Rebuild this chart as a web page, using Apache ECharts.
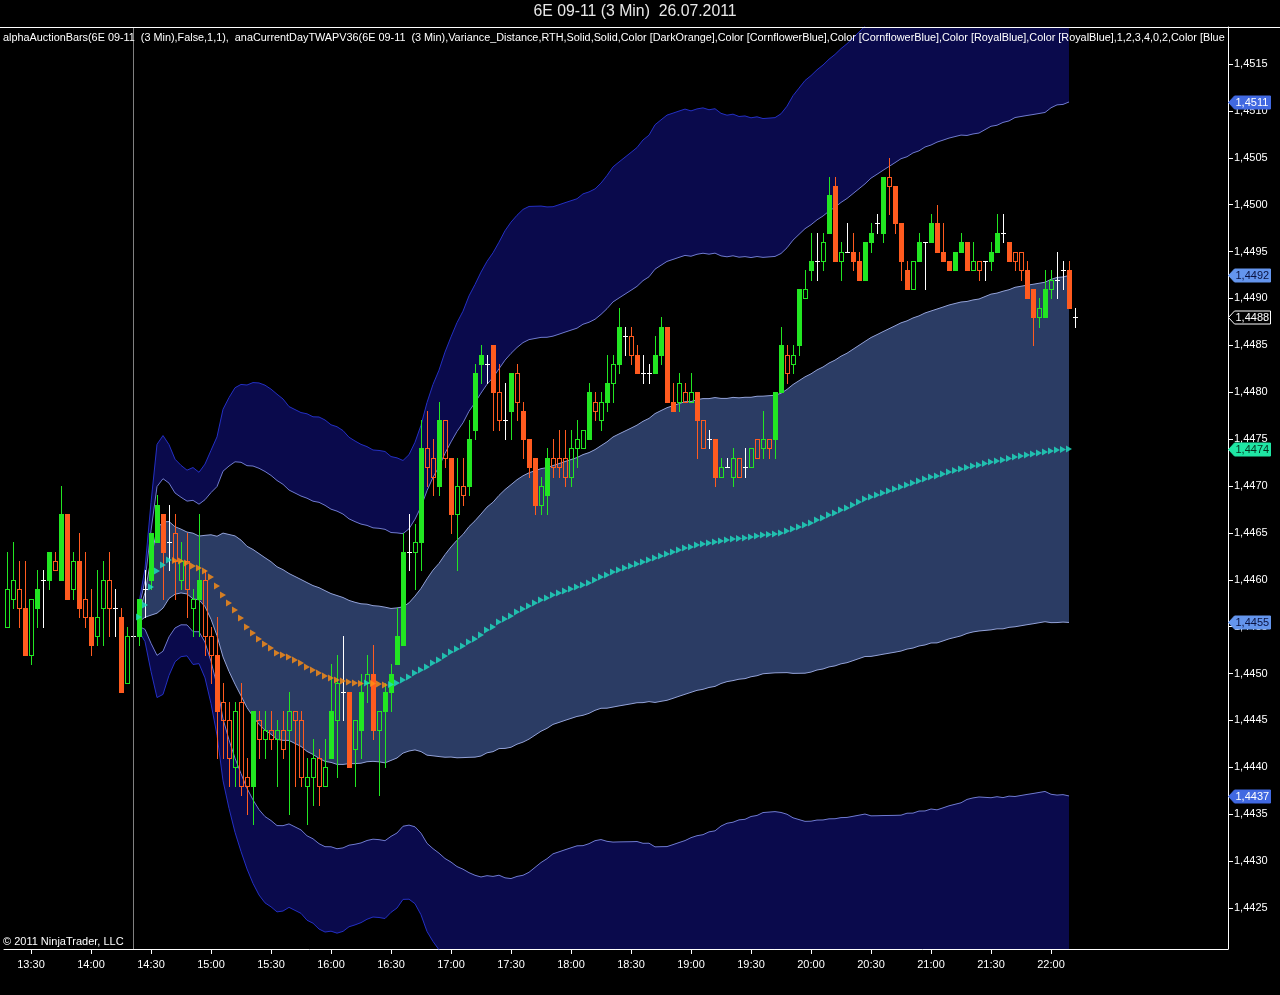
<!DOCTYPE html>
<html><head><meta charset="utf-8">
<script src="https://cdn.jsdelivr.net/npm/echarts@6/dist/echarts.min.js"></script>
<style>html,body{margin:0;padding:0;background:#000}#c{width:1280px;height:995px}</style>
</head><body><div id="c"></div><script>
// ---------- DATA ----------
const firstBarTime = '13:18';
const barMinutes = 3;
const timeTicks = ['13:30','14:00','14:30','15:00','15:30','16:00','16:30','17:00','17:30','18:00','18:30','19:00','19:30','20:00','20:30','21:00','21:30','22:00'];
const priceTicks = [1.4425,1.4430,1.4435,1.4440,1.4445,1.4450,1.4455,1.4460,1.4465,1.4470,1.4475,1.4480,1.4485,1.4490,1.4495,1.4500,1.4505,1.4510,1.4515];

const open = [1.4455,1.4458,1.4459,1.4457,1.4452,1.4457,1.4460,1.4460,1.4462,1.4460,
1.4467,1.4459,1.4462,1.4458,1.4456,1.4454,1.4457,1.4460,1.4457,1.4456,
1.4449,1.4454,1.4454,1.4459,1.4460,1.4464,1.4467,1.4464,1.4465,1.4460,
1.4462,1.4457,1.4458,1.4460,1.4454,1.4452,1.4447,1.4445,1.4440,1.4447,
1.4439,1.4438,1.4445,1.4443,1.4444,1.4443,1.4444,1.4444,1.4446,1.4445,
1.4438,1.4439,1.4441,1.4438,1.4441,1.4445,1.4448,1.4448,1.4442,1.4444,
1.4449,1.4450,1.4444,1.4446,1.4448,1.4451,1.4453,1.4463,1.4463,1.4464,
1.4474,1.4473,1.4470,1.4477,1.4473,1.4467,1.4470,1.4470,1.4476,1.4483,
1.4483,1.4485,1.4480,1.4477,1.4478,1.4482,1.4478,1.4475,1.4473,1.4468,
1.4469,1.4473,1.4473,1.4473,1.4471,1.4474,1.4474,1.4475,1.4479,1.4477,
1.4479,1.4481,1.4483,1.4486,1.4486,1.4484,1.4482,1.4482,1.4482,1.4484,
1.4487,1.4479,1.4479,1.4480,1.4479,1.4480,1.4477,1.4475,1.4475,1.4471,
1.4472,1.4471,1.4473,1.4472,1.4472,1.4475,1.4474,1.4475,1.4475,1.4480,
1.4484,1.4483,1.4485,1.4490,1.4493,1.4494,1.4494,1.4497,1.4502,1.4494,
1.4495,1.4495,1.4494,1.4492,1.4496,1.4498,1.4497,1.4503,1.4502,1.4498,
1.4493,1.4491,1.4494,1.4496,1.4496,1.4498,1.4495,1.4494,1.4493,1.4495,
1.4496,1.4493,1.4494,1.4494,1.4494,1.4495,1.4497,1.4496,1.4495,1.4495,
1.4493,1.4491,1.4488,1.4488,1.4491,1.4492,1.4493,1.4493,1.4488];
const high = [1.4463,1.4464,1.4462,1.4462,1.4458,1.4461,1.4461,1.4463,1.4463,1.4470,
1.4467,1.4463,1.4465,1.4463,1.4459,1.4461,1.4462,1.4463,1.4459,1.4457,
1.4455,1.4455,1.4458,1.4461,1.4465,1.4469,1.4467,1.4468,1.4467,1.4464,
1.4465,1.4459,1.4467,1.4461,1.4455,1.4456,1.4449,1.4447,1.4447,1.4449,
1.4441,1.4446,1.4446,1.4446,1.4446,1.4445,1.4446,1.4448,1.4446,1.4446,
1.4441,1.4443,1.4442,1.4443,1.4451,1.4452,1.4454,1.4448,1.4445,1.4450,
1.4452,1.4453,1.4446,1.4449,1.4451,1.4457,1.4465,1.4467,1.4466,1.4477,
1.4478,1.4475,1.4479,1.4477,1.4473,1.4473,1.4473,1.4477,1.4483,1.4485,
1.4484,1.4485,1.4483,1.4481,1.4482,1.4483,1.4479,1.4475,1.4473,1.4471,
1.4474,1.4475,1.4476,1.4476,1.4476,1.4477,1.4476,1.4481,1.4480,1.4480,
1.4484,1.4484,1.4489,1.4487,1.4487,1.4485,1.4484,1.4483,1.4486,1.4488,
1.4487,1.4481,1.4482,1.4481,1.4482,1.4480,1.4477,1.4476,1.4475,1.4473,
1.4473,1.4474,1.4473,1.4474,1.4474,1.4475,1.4478,1.4475,1.4480,1.4487,
1.4485,1.4485,1.4491,1.4493,1.4497,1.4497,1.4497,1.4503,1.4503,1.4496,
1.4498,1.4497,1.4495,1.4496,1.4498,1.4499,1.4503,1.4505,1.4502,1.4498,
1.4494,1.4494,1.4497,1.4496,1.4499,1.4500,1.4498,1.4494,1.4495,1.4497,
1.4496,1.4496,1.4494,1.4494,1.4496,1.4499,1.4499,1.4496,1.4495,1.4495,
1.4494,1.4491,1.4490,1.4493,1.4493,1.4495,1.4494,1.4494,1.4489];
const low = [1.4455,1.4457,1.4455,1.4452,1.4451,1.4455,1.4455,1.4459,1.4461,1.4460,
1.4458,1.4458,1.4456,1.4455,1.4452,1.4453,1.4453,1.4454,1.4454,1.4448,
1.4449,1.4453,1.4453,1.4456,1.4459,1.4464,1.4458,1.4461,1.4458,1.4459,
1.4456,1.4454,1.4454,1.4452,1.4449,1.4441,1.4441,1.4438,1.4438,1.4437,
1.4435,1.4434,1.4441,1.4441,1.4442,1.4438,1.4441,1.4435,1.4438,1.4438,
1.4434,1.4436,1.4436,1.4438,1.4441,1.4439,1.4445,1.4440,1.4438,1.4441,
1.4447,1.4443,1.4437,1.4440,1.4446,1.4451,1.4453,1.4461,1.4459,1.4461,
1.4470,1.4469,1.4469,1.4472,1.4465,1.4461,1.4468,1.4469,1.4475,1.4481,
1.4481,1.4476,1.4476,1.4475,1.4475,1.4477,1.4473,1.4471,1.4467,1.4467,
1.4467,1.4471,1.4471,1.4470,1.4470,1.4472,1.4474,1.4475,1.4477,1.4476,
1.4478,1.4479,1.4482,1.4484,1.4483,1.4482,1.4481,1.4481,1.4482,1.4483,
1.4479,1.4478,1.4478,1.4479,1.4479,1.4473,1.4474,1.4474,1.4470,1.4471,
1.4472,1.4470,1.4471,1.4471,1.4472,1.4473,1.4473,1.4473,1.4473,1.4480,
1.4481,1.4482,1.4484,1.4490,1.4492,1.4492,1.4493,1.4497,1.4494,1.4492,
1.4495,1.4493,1.4492,1.4492,1.4495,1.4497,1.4496,1.4499,1.4497,1.4492,
1.4491,1.4491,1.4494,1.4491,1.4496,1.4495,1.4494,1.4493,1.4493,1.4495,
1.4493,1.4493,1.4492,1.4492,1.4493,1.4495,1.4496,1.4494,1.4493,1.4492,
1.4490,1.4485,1.4487,1.4488,1.4490,1.4490,1.4491,1.4489,1.4487];
const close = [1.4459,1.4460,1.4457,1.4452,1.4458,1.4459,1.4460,1.4463,1.4461,1.4467,
1.4458,1.4462,1.4457,1.4456,1.4453,1.4456,1.4460,1.4457,1.4457,1.4448,
1.4454,1.4454,1.4458,1.4459,1.4465,1.4468,1.4463,1.4464,1.4462,1.4462,
1.4459,1.4458,1.4460,1.4454,1.4452,1.4446,1.4445,1.4441,1.4446,1.4438,
1.4438,1.4446,1.4443,1.4444,1.4443,1.4444,1.4442,1.4446,1.4445,1.4439,
1.4439,1.4441,1.4438,1.4440,1.4446,1.4449,1.4448,1.4440,1.4445,1.4448,
1.4450,1.4444,1.4446,1.4448,1.4450,1.4454,1.4463,1.4463,1.4464,1.4474,
1.4472,1.4471,1.4477,1.4473,1.4467,1.4470,1.4469,1.4475,1.4482,1.4484,
1.4483,1.4480,1.4477,1.4477,1.4482,1.4479,1.4475,1.4472,1.4468,1.4470,
1.4473,1.4472,1.4472,1.4471,1.4474,1.4475,1.4476,1.4480,1.4478,1.4479,
1.4481,1.4483,1.4487,1.4486,1.4484,1.4482,1.4482,1.4482,1.4484,1.4487,
1.4479,1.4478,1.4481,1.4479,1.4480,1.4477,1.4474,1.4475,1.4471,1.4472,
1.4472,1.4473,1.4471,1.4472,1.4474,1.4473,1.4475,1.4474,1.4480,1.4485,
1.4482,1.4484,1.4491,1.4491,1.4494,1.4494,1.4496,1.4501,1.4494,1.4495,
1.4495,1.4494,1.4492,1.4496,1.4497,1.4498,1.4503,1.4502,1.4498,1.4494,
1.4491,1.4494,1.4496,1.4496,1.4498,1.4495,1.4494,1.4493,1.4495,1.4496,
1.4493,1.4494,1.4493,1.4494,1.4495,1.4497,1.4497,1.4494,1.4494,1.4493,
1.4490,1.4488,1.4489,1.4491,1.4492,1.4492,1.4493,1.4489,1.4488];

// session TWAP (first value belongs to bar index bandStart)
const bandStart = 22;
const sessionBar = 21;
const twap = [1.445603,1.445731,1.445923,1.446094,1.446158,1.446211,1.446206,1.446200,1.446179,1.446147,
1.446126,1.446094,1.446030,1.445934,1.445838,1.445753,1.445678,1.445593,1.445497,1.445433,
1.445369,1.445315,1.445273,1.445219,1.445198,1.445177,1.445145,1.445113,1.445070,1.445038,
1.445006,1.444974,1.444953,1.444932,1.444921,1.444910,1.444900,1.444894,1.444900,1.444894,
1.444889,1.444878,1.444884,1.444900,1.444932,1.444964,1.445006,1.445038,1.445070,1.445113,
1.445145,1.445188,1.445230,1.445262,1.445294,1.445337,1.445369,1.445411,1.445465,1.445497,
1.445550,1.445582,1.445614,1.445657,1.445689,1.445721,1.445753,1.445785,1.445806,1.445838,
1.445859,1.445881,1.445902,1.445923,1.445945,1.445966,1.445998,1.446030,1.446051,1.446083,
1.446105,1.446126,1.446147,1.446169,1.446190,1.446211,1.446232,1.446254,1.446275,1.446296,
1.446318,1.446339,1.446350,1.446371,1.446382,1.446392,1.446403,1.446414,1.446424,1.446435,
1.446440,1.446446,1.446456,1.446467,1.446478,1.446483,1.446488,1.446499,1.446520,1.446542,
1.446563,1.446584,1.446606,1.446638,1.446659,1.446691,1.446712,1.446744,1.446766,1.446798,
1.446830,1.446862,1.446883,1.446904,1.446926,1.446947,1.446968,1.446990,1.447011,1.447032,
1.447054,1.447075,1.447096,1.447107,1.447128,1.447150,1.447166,1.447182,1.447198,1.447214,
1.447224,1.447240,1.447256,1.447267,1.447277,1.447293,1.447309,1.447320,1.447331,1.447341,
1.447352,1.447363,1.447373,1.447384,1.447389,1.447395];
// band unit (variance distance) in pips
const bandPips = [0.5,1.3,3.0,4.5,4.6,4.1,3.6,3.4,3.3,3.5,
3.4,3.8,4.5,5.3,6.6,7.3,7.9,8.3,8.6,8.9,
9.1,9.2,9.2,9.2,9.1,8.9,8.9,8.9,9.0,9.0,
9.1,9.1,9.0,9.0,8.9,8.7,8.6,8.5,8.4,8.3,
8.3,8.3,8.1,8.0,7.8,7.9,8.2,8.7,9.4,9.9,
10.3,10.8,11.2,11.6,11.9,12.3,12.6,12.9,13.1,13.3,
13.5,13.8,14.0,14.1,14.2,14.2,14.1,14.0,13.9,13.8,
13.8,13.8,13.8,13.8,13.9,13.9,13.9,14.0,14.2,14.4,
14.5,14.6,14.7,14.8,15.0,15.1,15.4,15.5,15.6,15.6,
15.6,15.6,15.5,15.5,15.5,15.4,15.4,15.2,15.1,15.1,
15.0,15.0,14.9,14.9,14.8,14.8,14.8,14.9,15.1,15.4,
15.6,15.8,15.9,16.0,16.1,16.2,16.3,16.4,16.5,16.6,
16.7,16.8,17.0,17.1,17.2,17.3,17.4,17.5,17.5,17.6,
17.6,17.7,17.7,17.8,17.8,17.8,17.8,17.8,17.7,17.7,
17.7,17.8,17.9,17.9,18.0,18.0,18.1,18.1,18.1,18.1,
18.1,18.1,18.3,18.4,18.4,18.5];

// ---------- LAYOUT / STYLE ----------
const FONT = '"Liberation Sans", Arial, sans-serif';
const GRID = {left: 4, right: 52, top: 27, bottom: 46};
const AXIS_X = 1280 - GRID.right;
const SLOTS = 204;              // visible bar slots across the panel
const Y_MIN = 1.442063, Y_MAX = 1.4518945;
const GREEN = '#22e622', ORANGE = '#ff5b1f', WHITE = '#ffffff';
const UP_T = '#1fe0c2', DN_T = '#ff8f14';
const NAVY = '#0a0a4c', SLATE = '#2b3c64';

// ---------- DERIVED ----------
const N = open.length;
const [h0, m0] = firstBarTime.split(':').map(Number);
const cats = [];
for (let k = 0; k < SLOTS; k++) {
  const t = h0 * 60 + m0 + k * barMinutes;
  cats.push(String(Math.floor(t / 60) % 24).padStart(2, '0') + ':' + String(t % 60).padStart(2, '0'));
}
const candleData = open.map((o, i) => [i, o, high[i], low[i], close[i]]);

function bandLine(mult) {
  const arr = new Array(N).fill(null);
  twap.forEach((v, j) => { arr[bandStart + j] = v + mult * bandPips[j] / 10000; });
  return arr;
}
function bandDiff(m1, m0) {
  const arr = new Array(N).fill(null);
  twap.forEach((v, j) => { arr[bandStart + j] = (m1 - m0) * bandPips[j] / 10000; });
  return arr;
}
const twapData = twap.map((v, j) => [bandStart + j, v]);
const twapColor = [];
twap.forEach((v, j) => {
  if (j === 0) twapColor.push(UP_T);
  else if (v > twap[j - 1]) twapColor.push(UP_T);
  else if (v < twap[j - 1]) twapColor.push(DN_T);
  else twapColor.push(twapColor[j - 1]);
});

function px(x, y, w, h, color) {
  return {type: 'rect', shape: {x: x, y: y, width: w, height: h}, style: {fill: color}};
}
function renderCandle(params, api) {
  const k = api.value(0);
  const o = api.value(1), h = api.value(2), l = api.value(3), c = api.value(4);
  const n = Math.round(api.coord([k, o])[0]);
  const Y = v => Math.round(api.coord([k, v])[1]);
  const yo = Y(o), yc = Y(c), yh = Y(h), yl = Y(l);
  const idx = params.dataIndex;
  const ch = [];
  if (c === o) {
    ch.push(px(n, yh, 1, yl - yh + 1, WHITE));
    ch.push(px(n - 2, yo, 5, 1, WHITE));
  } else {
    const col = c > o ? GREEN : ORANGE;
    const top = Math.min(yo, yc), bot = Math.max(yo, yc);
    const ph = idx > 0 ? high[idx - 1] : h, pl = idx > 0 ? low[idx - 1] : l;
    const filled = c > o ? c > ph : c < pl;
    if (filled) {
      ch.push(px(n, yh, 1, yl - yh + 1, col));
      ch.push(px(n - 2, top, 5, bot - top + 1, col));
    } else {
      if (yh < top) ch.push(px(n, yh, 1, top - yh, col));
      if (yl > bot) ch.push(px(n, bot + 1, 1, yl - bot, col));
      ch.push(px(n - 2, top, 5, 1, col));
      ch.push(px(n - 2, bot, 5, 1, col));
      ch.push(px(n - 2, top, 1, bot - top + 1, col));
      ch.push(px(n + 2, top, 1, bot - top + 1, col));
    }
  }
  return {type: 'group', children: ch};
}

const fillBase = {type: 'line', stack: 'bands', symbol: 'none', silent: true, z: 1,
  lineStyle: {width: 0, opacity: 0}, connectNulls: false};
const lineBase = {type: 'line', symbol: 'none', silent: true, z: 2, connectNulls: false};

const staticGraphic = [
  {type: 'text', x: 635, y: 12, style: {text: '6E 09-11 (3 Min)  26.07.2011', fill: '#e8e8e8', font: '15.8px ' + FONT, align: 'center', verticalAlign: 'middle'}},
  {type: 'line', shape: {x1: 0, y1: 27.5, x2: 1280, y2: 27.5}, style: {stroke: '#fff', lineWidth: 1}, z: 10},
  {type: 'text', x: 3, y: 38, z: 10, style: {
    text: 'alphaAuctionBars(6E 09-11  (3 Min),False,1,1),  anaCurrentDayTWAPV36(6E 09-11  (3 Min),Variance_Distance,RTH,Solid,Solid,Color [DarkOrange],Color [CornflowerBlue],Color [CornflowerBlue],Color [RoyalBlue],Color [RoyalBlue],1,2,3,4,0,2,Color [Blue],Color [Blue]',
    fill: '#fff', font: '10.85px ' + FONT, verticalAlign: 'middle', width: AXIS_X - 5, overflow: 'truncate', ellipsis: ''}},
  {type: 'text', x: 3, y: 942, z: 10, style: {text: '\u00a9 2011 NinjaTrader, LLC', fill: '#fff', font: '11px ' + FONT, verticalAlign: 'middle'}}
];

const chart = echarts.init(document.getElementById('c'));
chart.setOption({
  backgroundColor: '#000',
  animation: false,
  grid: GRID,
  xAxis: {
    type: 'category', data: cats, boundaryGap: true,
    axisLine: {show: true, lineStyle: {color: '#fff', width: 1}},
    axisTick: {show: true, alignWithLabel: true, length: 5, lineStyle: {color: '#fff'},
      interval: (i, v) => timeTicks.includes(v) && i < N},
    axisLabel: {color: '#fff', fontSize: 11, fontFamily: FONT, margin: 10,
      interval: (i, v) => timeTicks.includes(v) && i < N},
    splitLine: {show: false}
  },
  yAxis: {
    type: 'value', position: 'right', min: Y_MIN, max: Y_MAX,
    axisLine: {show: true, lineStyle: {color: '#fff', width: 1}},
    axisTick: {show: true, length: 5, lineStyle: {color: '#fff'}, customValues: priceTicks},
    axisLabel: {color: '#fff', fontSize: 11, fontFamily: FONT, margin: 6,
      customValues: priceTicks, formatter: v => v.toFixed(4).replace('.', ',')},
    splitLine: {show: false}
  },
  series: [
    Object.assign({}, fillBase, {name: 'f0', data: bandLine(-3)}),
    Object.assign({}, fillBase, {name: 'f1', data: bandDiff(-2, -3), areaStyle: {color: NAVY, opacity: 1}}),
    Object.assign({}, fillBase, {name: 'f2', data: bandDiff(-1, -2)}),
    Object.assign({}, fillBase, {name: 'f3', data: bandDiff(1, -1), areaStyle: {color: SLATE, opacity: 1}}),
    Object.assign({}, fillBase, {name: 'f4', data: bandDiff(2, 1)}),
    Object.assign({}, fillBase, {name: 'f5', data: bandDiff(3, 2), areaStyle: {color: NAVY, opacity: 1}}),
    Object.assign({}, lineBase, {name: 'u3', data: bandLine(3), lineStyle: {color: '#2430c4', width: 1}}),
    Object.assign({}, lineBase, {name: 'u2', data: bandLine(2), lineStyle: {color: '#6f7ad0', width: 1}}),
    Object.assign({}, lineBase, {name: 'u1', data: bandLine(1), lineStyle: {color: '#93a2d8', width: 1}}),
    Object.assign({}, lineBase, {name: 'l1', data: bandLine(-1), lineStyle: {color: '#93a2d8', width: 1}}),
    Object.assign({}, lineBase, {name: 'l2', data: bandLine(-2), lineStyle: {color: '#6f7ad0', width: 1}}),
    Object.assign({}, lineBase, {name: 'l3', data: bandLine(-3), lineStyle: {color: '#2430c4', width: 1}}),
    {
      type: 'custom', name: 'bars', z: 3, silent: true,
      renderItem: renderCandle, encode: {x: 0, y: [1, 2, 3, 4]}, data: candleData
    },
    {
      type: 'scatter', name: 'twap', z: 4, silent: true,
      symbol: 'triangle', symbolRotate: -90, symbolSize: [7, 6],
      itemStyle: {color: p => twapColor[p.dataIndex]},
      data: twapData,
      markLine: {silent: true, symbol: 'none', label: {show: false},
        lineStyle: {color: '#808080', type: 'solid', width: 1},
        data: [{xAxis: cats[sessionBar]}]}
    }
  ],
  graphic: staticGraphic
});

// price markers on the axis
const lastJ = twap.length - 1;
const tv = twap[lastJ], tu = bandPips[lastJ] / 10000;
const tags = [
  {val: tv + 2 * tu, fill: '#4169e1', text: '#ffffff'},
  {val: tv + tu, fill: '#6495ed', text: '#0a1240'},
  {val: close[N - 1], fill: '#000000', stroke: '#ffffff', text: '#ffffff'},
  {val: tv, fill: '#1fe6a4', text: '#05301e'},
  {val: tv - tu, fill: '#6495ed', text: '#0a1240'},
  {val: tv - 2 * tu, fill: '#4169e1', text: '#ffffff'}
];
const extra = [];
tags.forEach(t => {
  const y = Math.round(chart.convertToPixel({yAxisIndex: 0}, t.val)) + 0.5;
  const x0 = AXIS_X + 0.5;
  extra.push({type: 'polygon', z: 20, shape: {points: [[x0, y], [x0 + 6, y - 6.5], [x0 + 42, y - 6.5], [x0 + 42, y + 6.5], [x0 + 6, y + 6.5]]},
    style: {fill: t.fill, stroke: t.stroke || t.fill, lineWidth: 1}});
  extra.push({type: 'text', z: 21, x: x0 + 7, y: y, style: {text: t.val.toFixed(4).replace('.', ','), fill: t.text, font: '11px ' + FONT, verticalAlign: 'middle'}});
});
chart.setOption({graphic: staticGraphic.concat(extra)});
</script></body></html>
